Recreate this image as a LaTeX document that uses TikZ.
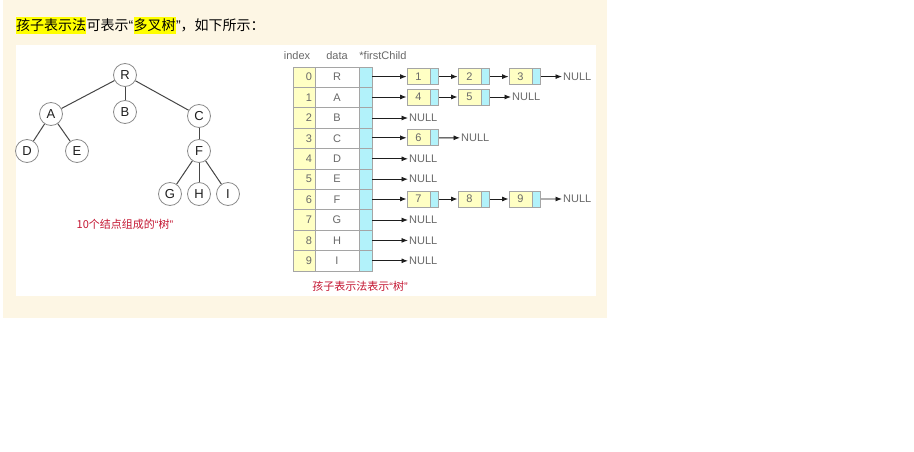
\documentclass[tikz,border=0pt]{standalone}
\usepackage{fontspec}
\setmainfont{Liberation Sans}
\newfontfamily\cjk{Noto Sans CJK SC}
\newcommand\myLQ{{\rmfamily “}}
\newcommand\myRQ{{\rmfamily ”}}
\usetikzlibrary{arrows.meta}
\definecolor{beige}{RGB}{253,246,228}
\definecolor{cellyellow}{RGB}{255,255,196}
\definecolor{cellcyan}{RGB}{178,242,250}
\definecolor{cellborder}{RGB}{165,165,165}
\definecolor{celltext}{RGB}{105,105,105}
\definecolor{capred}{RGB}{196,22,50}
\definecolor{hlyellow}{RGB}{255,255,0}
\definecolor{treeline}{RGB}{70,70,70}
\definecolor{circborder}{RGB}{140,140,140}
\begin{document}
\begin{tikzpicture}[x=1pt,y=-1pt,
  hdr/.style={inner xsep=0pt,inner ysep=2pt,font=\cjk\fontsize{14}{16}\selectfont,text=black},
  hl/.style={hdr,fill=hlyellow},
  tn/.style={circle,draw=circborder,line width=0.8pt,fill=white,minimum size=23pt,inner sep=0pt,
    font=\fontsize{13}{15}\selectfont,text={rgb,255:red,30;green,30;blue,30}},
  tedge/.style={draw=treeline,line width=1pt},
  redcap/.style={font=\cjk\fontsize{11}{13}\selectfont,text=capred,inner sep=0pt},
  colhdr/.style={font=\fontsize{11}{13}\selectfont,text=celltext,inner sep=0pt},
  cellbase/.style={draw=cellborder,line width=0.8pt,minimum height=20.4pt,inner ysep=0pt,
    font=\fontsize{11}{13}\selectfont,text=celltext},
  idxcell/.style={cellbase,fill=cellyellow,text width=16pt,align=right,inner xsep=3pt},
  datacell/.style={cellbase,fill=white,minimum width=44pt,inner xsep=0pt},
  ptrcell/.style={cellbase,fill=cellcyan,minimum width=13pt,inner xsep=0pt},
  boxy/.style={draw=cellborder,line width=0.8pt,fill=cellyellow,minimum width=23pt,minimum height=16pt,
    inner sep=0pt,font=\fontsize{11}{13}\selectfont,text=celltext},
  boxc/.style={draw=cellborder,line width=0.8pt,fill=cellcyan,minimum width=8pt,minimum height=16pt,inner sep=0pt},
  nulltxt/.style={font=\fontsize{11}{13}\selectfont,text=celltext,inner xsep=1pt,inner ysep=0pt,anchor=west},
  arr/.style={draw={rgb,255:red,30;green,30;blue,30},line width=0.9pt,-{Latex[length=6.5pt,width=5pt]}}
]
\useasboundingbox (0,0) rectangle (914,452);
\fill[beige] (3,0) rectangle (607,318);
\fill[white] (16,45) rectangle (596,296);

% header
\node[hl,anchor=base west] (h1) at (16,31) {孩子表示法};
\node[hdr,anchor=base west] (h2) at (h1.base east) {可表示\myLQ};
\node[hl,anchor=base west] (h3) at (h2.base east) {多叉树};
\node[hdr,anchor=base west] (h4) at (h3.base east) {\myRQ，如下所示：};

% tree
\node[tn] (R) at (125,75) {R};
\node[tn] (A) at (51,114) {A};
\node[tn] (B) at (125,112) {B};
\node[tn] (C) at (199,116) {C};
\node[tn] (D) at (27,151) {D};
\node[tn] (E) at (77,151) {E};
\node[tn] (F) at (199,151) {F};
\node[tn] (G) at (170,194) {G};
\node[tn] (H) at (199,194) {H};
\node[tn] (I) at (228,194) {I};
\draw[tedge] (R) -- (A);
\draw[tedge] (R) -- (B);
\draw[tedge] (R) -- (C);
\draw[tedge] (A) -- (D);
\draw[tedge] (A) -- (E);
\draw[tedge] (C) -- (F);
\draw[tedge] (F) -- (G);
\draw[tedge] (F) -- (H);
\draw[tedge] (F) -- (I);
\node[redcap] (cap1) at (125,224) {10个结点组成的\myLQ 树\myRQ};

% table headers
\node[colhdr] (hidx) at (297,56) {index};
\node[colhdr] (hdata) at (337,56) {data};
\node[colhdr] (hptr) at (383,56) {*firstChild};

% table rows
\foreach \i/\d in {0/R,1/A,2/B,3/C,4/D,5/E,6/F,7/G,8/H,9/I} {
  \pgfmathsetmacro\yc{77.2+20.4*\i}
  \node[idxcell] (x\i) at (304,\yc) {\i};
  \node[datacell] (d\i) at (337,\yc) {\d};
  \node[ptrcell] (q\i) at (365.5,\yc) {};
}

% child boxes
\foreach \r/\s/\l in {0/0/1,0/1/2,0/2/3,1/0/4,1/1/5,3/0/6,6/0/7,6/1/8,6/2/9} {
  \pgfmathsetmacro\yc{76.6+20.4*\r}
  \pgfmathsetmacro\xc{418.5+51*\s}
  \node[boxy] (b\l) at (\xc,\yc) {\l};
  \node[boxc,anchor=west] (p\l) at (b\l.east) {};
}

% NULL labels
\node[nulltxt] (n0) at (562,76.6) {NULL};
\node[nulltxt] (n1) at (511,97.0) {NULL};
\node[nulltxt] (n2) at (408,118.0) {NULL};
\node[nulltxt] (n3) at (460,137.8) {NULL};
\node[nulltxt] (n4) at (408,158.8) {NULL};
\node[nulltxt] (n5) at (408,179.2) {NULL};
\node[nulltxt] (n6) at (562,199.0) {NULL};
\node[nulltxt] (n7) at (408,220.0) {NULL};
\node[nulltxt] (n8) at (408,240.4) {NULL};
\node[nulltxt] (n9) at (408,260.8) {NULL};

% arrows
\draw[arr] (q0.east |- b1.west) -- (b1.west);
\draw[arr] (p1.east) -- (b2.west);
\draw[arr] (p2.east) -- (b3.west);
\draw[arr] (p3.east) -- (n0.west);
\draw[arr] (q1.east |- b4.west) -- (b4.west);
\draw[arr] (p4.east) -- (b5.west);
\draw[arr] (p5.east) -- (n1.west);
\draw[arr] (q2.east |- n2.west) -- (n2.west);
\draw[arr] (q3.east |- b6.west) -- (b6.west);
\draw[arr] (p6.east) -- (n3.west);
\draw[arr] (q4.east |- n4.west) -- (n4.west);
\draw[arr] (q5.east |- n5.west) -- (n5.west);
\draw[arr] (q6.east |- b7.west) -- (b7.west);
\draw[arr] (p7.east) -- (b8.west);
\draw[arr] (p8.east) -- (b9.west);
\draw[arr] (p9.east) -- (n6.west);
\draw[arr] (q7.east |- n7.west) -- (n7.west);
\draw[arr] (q8.east |- n8.west) -- (n8.west);
\draw[arr] (q9.east |- n9.west) -- (n9.west);

\node[redcap] (cap2) at (360,286) {孩子表示法表示\myLQ 树\myRQ};
\end{tikzpicture}
\end{document}
